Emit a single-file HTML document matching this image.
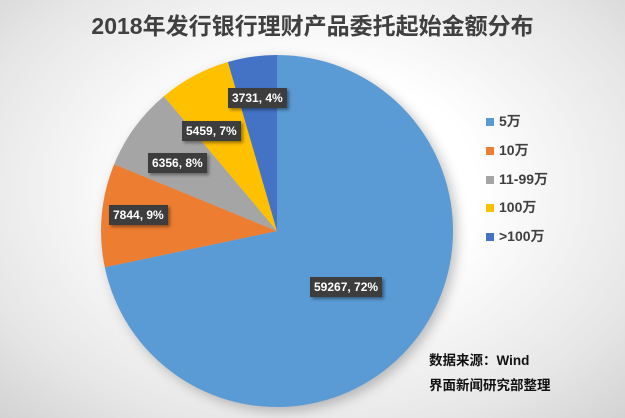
<!DOCTYPE html>
<html><head><meta charset="utf-8"><style>
body{margin:0}
#c{position:relative;width:625px;height:418px;overflow:hidden;background:radial-gradient(ellipse 75% 80% at 50% 45%,#fff 35%,#e6e6e6 75%,#cfcfcf 100%);font-family:"Liberation Sans","Noto Sans CJK SC",sans-serif}
.t{position:absolute;left:0;width:625px;top:7px;text-align:center;font-size:23px;font-weight:bold;color:#404040}
.lb{position:absolute;background:#3d3d3d;color:#fff;font-size:12px;font-weight:bold;padding:3px 4px;box-shadow:2px 2px 3px rgba(0,0,0,.4);white-space:nowrap}
.lg{position:absolute;left:486px;font-size:14px;font-weight:bold;color:#404040}
.lg i{display:inline-block;width:8px;height:8px;margin-right:5px}
.s{position:absolute;left:429px;font-size:13.5px;font-weight:bold;color:#111}
</style></head><body><div id="c">
<div class="t">2018年发行银行理财产品委托起始金额分布</div>
<svg width="625" height="418" style="position:absolute;left:0;top:0">
<defs><filter id="sh"><feGaussianBlur stdDeviation="6"/></filter></defs>
<circle cx="281" cy="235" r="176" fill="rgba(0,0,0,0.25)" filter="url(#sh)"/>
<path d="M277,231 L277,55 A176,176 0 1,1 104.8,267.3Z" fill="#5b9bd5"/>
<path d="M277,231 L104.8,267.3 A176,176 0 0,1 114.2,164.2Z" fill="#ed7d31"/>
<path d="M277,231 L114.2,164.2 A176,176 0 0,1 163.9,96.2Z" fill="#a5a5a5"/>
<path d="M277,231 L163.9,96.2 A176,176 0 0,1 227.9,62Z" fill="#ffc000"/>
<path d="M277,231 L227.9,62 A176,176 0 0,1 277,55Z" fill="#4472c4"/>
</svg>
<div class="lb" style="left:310px;top:277px">59267, 72%</div>
<div class="lb" style="left:109px;top:205px">7844, 9%</div>
<div class="lb" style="left:148px;top:153px">6356, 8%</div>
<div class="lb" style="left:182px;top:121px">5459, 7%</div>
<div class="lb" style="left:228px;top:88px">3731, 4%</div>
<div class="lg" style="top:111px"><i style="background:#5b9bd5"></i>5万</div>
<div class="lg" style="top:140px"><i style="background:#ed7d31"></i>10万</div>
<div class="lg" style="top:169px"><i style="background:#a5a5a5"></i>11-99万</div>
<div class="lg" style="top:197px"><i style="background:#ffc000"></i>100万</div>
<div class="lg" style="top:226px"><i style="background:#4472c4"></i>&gt;100万</div>
<div class="s" style="top:349px">数据来源：Wind</div>
<div class="s" style="top:374px">界面新闻研究部整理</div>
</div></body></html>
